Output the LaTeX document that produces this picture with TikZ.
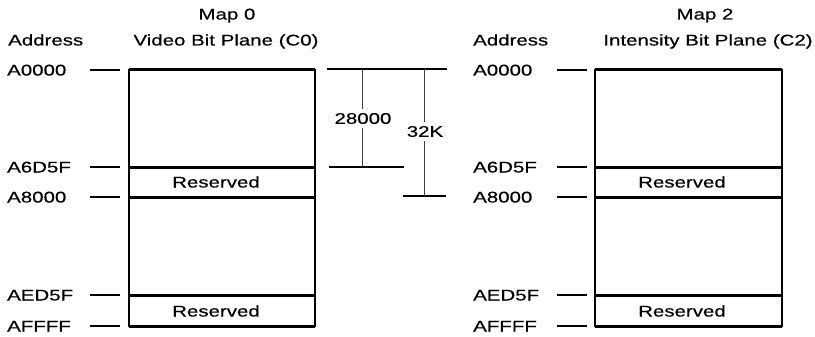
\documentclass[tikz,border=0pt]{standalone}
\usepackage{fontspec}
\setmainfont{Liberation Sans}[FakeStretch=1.32,FakeBold=0.4]
\begin{document}
\begin{tikzpicture}[x=1pt,y=-1pt,
  lbl/.style={inner sep=0pt,font=\fontsize{15.5}{17}\selectfont},
  boxline/.style={line width=2.2pt},
  divline/.style={line width=3pt},
  tick/.style={line width=1.6pt},
  dimbar/.style={line width=2pt},
  dimv/.style={line width=0.9pt,black!75}]
\useasboundingbox (0,0) rectangle (815,337);
% ---------- left map ----------
\node[lbl,anchor=base] (m0) at (227,19.5) {Map 0};
\node[lbl,anchor=base] (v0) at (226,45.5) {Video Bit Plane (C0)};
\node[lbl,anchor=base west] (ad0) at (8,45.5) {Address};
\coordinate (LTL) at (129,70);
\coordinate (LBR) at (315,326);
\draw[boxline] (LTL) rectangle (LBR);
\draw[divline] (129,70) -- (315,70);
\draw[divline] (129,326) -- (315,326);
\draw[divline] (129,167) -- (315,167);
\draw[divline] (129,197) -- (315,197);
\draw[divline] (129,295) -- (315,295);
\node[lbl,anchor=base] (r0a) at (216,187.5) {Reserved};
\node[lbl,anchor=base] (r0b) at (216,316.5) {Reserved};
\foreach \y/\t/\n in {70/A0000/a, 167/A6D5F/b, 197/A8000/c, 295/AED5F/d, 326/AFFFF/e}{
  \node[lbl,anchor=base west] (L\n) at (7,\y+5.5) {\t};
  \coordinate (Lt1\n) at (90,\y);
  \coordinate (Lt2\n) at (120,\y);
  \draw[tick] (Lt1\n) -- (Lt2\n);
}
% ---------- right map ----------
\node[lbl,anchor=base] (m2) at (705,19.5) {Map 2};
\node[lbl,anchor=base] (v2) at (708,45.5) {Intensity Bit Plane (C2)};
\node[lbl,anchor=base west] (ad2) at (473,45.5) {Address};
\coordinate (RTL) at (595,70);
\coordinate (RBR) at (782,326);
\draw[boxline] (RTL) rectangle (RBR);
\draw[divline] (595,70) -- (782,70);
\draw[divline] (595,326) -- (782,326);
\draw[divline] (595,167) -- (782,167);
\draw[divline] (595,197) -- (782,197);
\draw[divline] (595,295) -- (782,295);
\node[lbl,anchor=base] (r2a) at (682,187.5) {Reserved};
\node[lbl,anchor=base] (r2b) at (682,316.5) {Reserved};
\foreach \y/\t/\n in {70/A0000/a, 167/A6D5F/b, 197/A8000/c, 295/AED5F/d, 326/AFFFF/e}{
  \node[lbl,anchor=base west] (R\n) at (473,\y+5.5) {\t};
  \coordinate (Rt1\n) at (557,\y);
  \coordinate (Rt2\n) at (587,\y);
  \draw[tick] (Rt1\n) -- (Rt2\n);
}
% ---------- dimensions ----------
\coordinate (dTa) at (327,69);
\coordinate (dTb) at (447,69);
\coordinate (d1a) at (329,167);
\coordinate (d1b) at (404,167);
\coordinate (d2a) at (403,196);
\coordinate (d2b) at (446,196);
\draw[dimbar] (dTa) -- (dTb);
\draw[dimbar] (d1a) -- (d1b);
\draw[dimbar] (d2a) -- (d2b);
\coordinate (v1t) at (362,69);
\coordinate (v1b) at (362,167);
\coordinate (v2t) at (424,69);
\coordinate (v2b) at (424,196);
\draw[dimv] (v1t) -- (v1b);
\draw[dimv] (v2t) -- (v2b);
\node[lbl,fill=white,inner ysep=4pt,inner xsep=1pt,anchor=center] (n28) at (363,118.5) {28000};
\node[lbl,fill=white,inner ysep=4pt,inner xsep=1pt,anchor=center] (n32) at (425,131.5) {32K};
\end{tikzpicture}
\end{document}
